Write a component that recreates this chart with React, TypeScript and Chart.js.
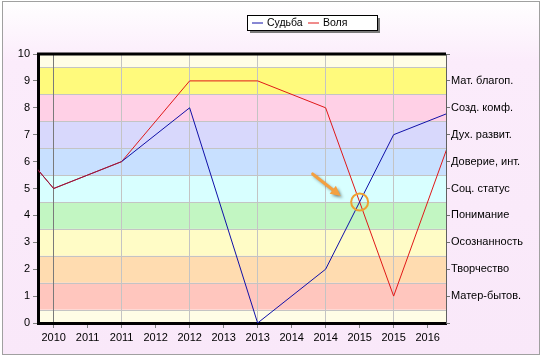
import React, { useEffect, useRef } from "react";
import { Chart, registerables } from "chart.js";

Chart.register(...registerables);

const years = [2009, 2010, 2011, 2012, 2013, 2014, 2015, 2016];
const sudba = [8, 5, 6, 8, 0, 2, 7, 8];
const volya = [8, 5, 6, 9, 9, 8, 1, 8];
const xTickValues = [2010, 2010.5, 2011, 2011.5, 2012, 2012.5, 2013, 2013.5, 2014, 2014.5, 2015, 2015.5];
const xTickLabels = ["2010", "2011", "2011", "2012", "2012", "2013", "2013", "2014", "2014", "2015", "2015", "2016"];
const levelLabels = ["", "Матер-бытов.", "Творчество", "Осознанность", "Понимание", "Соц. статус", "Доверие, инт.", "Дух. развит.", "Созд. комф.", "Мат. благоп.", ""];
const bandColors = ["#FFFDE6", "#FFC6BE", "#FFDCB0", "#FFFCC6", "#C2F6C2", "#D8FFFF", "#C8E0FF", "#D8D8FC", "#FFD0E6", "#FFFA7C", "#FFFDE6"];
const seriesNames = ["Судьба", "Воля"];
const crossPoint = { x: 2014.5, y: 4.5 };
const X_MIN = 2009.77;
const X_MAX = 2015.77;
const FONT = "'Liberation Sans', Arial, sans-serif";

const bgPlugin = {
  id: "bgBands",
  beforeDraw(chart: any) {
    const ctx = chart.ctx;
    const { width, height } = chart;
    ctx.save();
    const g = ctx.createLinearGradient(0, 0, 0, height);
    g.addColorStop(0, "#FFFFFF");
    g.addColorStop(0.17, "#FBECFB");
    g.addColorStop(1, "#F9E8F9");
    ctx.fillStyle = "#FFFFFF";
    ctx.fillRect(0, 0, width, height);
    ctx.fillStyle = g;
    ctx.fillRect(2, 1, width - 4, height - 7);
    ctx.strokeStyle = "#A0A0A0";
    ctx.lineWidth = 1;
    ctx.strokeRect(2.5, 1.5, width - 5, height - 7);
    const area = chart.chartArea;
    const y = chart.scales.y;
    for (let i = 0; i < bandColors.length; i++) {
      const lo = Math.max(0, i - 0.5);
      const hi = Math.min(10, i + 0.5);
      const yTop = y.getPixelForValue(hi);
      const yBot = y.getPixelForValue(lo);
      ctx.fillStyle = bandColors[i];
      ctx.fillRect(area.left, yTop, area.right - area.left, yBot - yTop);
    }
    ctx.strokeStyle = "#C4C4C4";
    ctx.lineWidth = 1;
    for (let i = 0; i < 10; i++) {
      const py = Math.round(y.getPixelForValue(i + 0.5)) + 0.5;
      ctx.beginPath();
      ctx.moveTo(area.left, py);
      ctx.lineTo(area.right, py);
      ctx.stroke();
    }
    ctx.restore();
  },
  afterDatasetsDraw(chart: any) {
    const ctx = chart.ctx;
    const area = chart.chartArea;
    const cx = chart.scales.x.getPixelForValue(crossPoint.x);
    const cy = chart.scales.y.getPixelForValue(crossPoint.y);
    ctx.save();
    ctx.strokeStyle = "#F0A030";
    ctx.lineWidth = 2;
    ctx.beginPath();
    ctx.arc(cx, cy, 8.5, 0, Math.PI * 2);
    ctx.stroke();
    ctx.shadowColor = "rgba(0,0,0,0.35)";
    ctx.shadowBlur = 3;
    ctx.shadowOffsetX = 2;
    ctx.shadowOffsetY = 2;
    const tx = cx - 47, ty = cy - 28;
    const hx = cx - 19, hy = cy - 6;
    const ang = Math.atan2(hy - ty, hx - tx);
    ctx.strokeStyle = "#F4A040";
    ctx.fillStyle = "#F4A040";
    ctx.lineWidth = 3;
    ctx.lineCap = "round";
    ctx.beginPath();
    ctx.moveTo(tx, ty);
    ctx.lineTo(hx - 6 * Math.cos(ang), hy - 6 * Math.sin(ang));
    ctx.stroke();
    ctx.beginPath();
    ctx.moveTo(hx, hy);
    ctx.lineTo(hx - 10 * Math.cos(ang) + 5 * Math.sin(ang), hy - 10 * Math.sin(ang) - 5 * Math.cos(ang));
    ctx.lineTo(hx - 10 * Math.cos(ang) - 5 * Math.sin(ang), hy - 10 * Math.sin(ang) + 5 * Math.cos(ang));
    ctx.closePath();
    ctx.fill();
    ctx.restore();
    ctx.save();
    ctx.strokeStyle = "#000";
    ctx.lineWidth = 3;
    ctx.beginPath();
    ctx.moveTo(area.left - 1, area.top);
    ctx.lineTo(area.right, area.top);
    ctx.stroke();
    ctx.restore();
  },
  afterDraw(chart: any) {
    const ctx = chart.ctx;
    ctx.save();
    const bx = 247, by = 15, bw = 130, bh = 15;
    ctx.fillStyle = "#7A7A7A";
    ctx.fillRect(bx + 3, by + 3, bw, bh);
    ctx.fillStyle = "#FFFFFF";
    ctx.fillRect(bx, by, bw, bh);
    ctx.strokeStyle = "#000";
    ctx.lineWidth = 1;
    ctx.strokeRect(bx + 0.5, by + 0.5, bw, bh);
    const colors = ["#1010A8", "#E01818"];
    const starts = [252, 308];
    ctx.font = "10.5px " + FONT;
    ctx.textBaseline = "middle";
    for (let i = 0; i < 2; i++) {
      ctx.strokeStyle = colors[i];
      ctx.beginPath();
      ctx.moveTo(starts[i], by + 8);
      ctx.lineTo(starts[i] + 11, by + 8);
      ctx.stroke();
      ctx.fillStyle = "#000";
      ctx.fillText(seriesNames[i], starts[i] + 15, by + 8.5);
    }
    ctx.restore();
  },
};

export default function App() {
  const ref = useRef<HTMLCanvasElement | null>(null);
  useEffect(() => {
    if (!ref.current) return;
    const chart = new Chart(ref.current, {
      type: "line",
      data: {
        datasets: [
          {
            label: seriesNames[0],
            data: years.map((x, i) => ({ x, y: sudba[i] })),
            borderColor: "#1010A8",
            borderWidth: 1,
            pointRadius: 0,
            tension: 0,
            segment: {
              borderColor: (c: any) => (c.p1.parsed.x <= 2011 ? "#8A1848" : "#1010A8"),
            },
          },
          {
            label: seriesNames[1],
            data: years.map((x, i) => ({ x, y: volya[i] })),
            borderColor: "#E01818",
            borderWidth: 1,
            pointRadius: 0,
            tension: 0,
          },
        ],
      },
      options: {
        animation: false,
        responsive: false,
        events: [],
        layout: { padding: { top: 54, left: 0, right: 0, bottom: 0 } },
        plugins: { legend: { display: false }, tooltip: { enabled: false } },
        scales: {
          x: {
            type: "linear",
            min: X_MIN,
            max: X_MAX,
            afterBuildTicks: (s: any) => {
              s.ticks = xTickValues.map((v) => ({ value: v }));
            },
            afterFit: (s: any) => {
              s.height = 37;
            },
            ticks: {
              autoSkip: false,
              maxRotation: 0,
              padding: 3,
              color: "#000",
              font: { family: FONT, size: 11 },
              callback: (_v: any, i: number) => xTickLabels[i],
            },
            grid: {
              drawOnChartArea: true,
              tickLength: 5,
              color: (c: any) =>
                c.tick && Number.isInteger(c.tick.value)
                  ? c.tick.value === 2010
                    ? "#7A7A7A"
                    : "#C4C4C4"
                  : "rgba(0,0,0,0)",
              tickColor: "#808080",
            },
            border: { display: true, color: "#000", width: 3 },
          },
          y: {
            position: "left",
            min: 0,
            max: 10,
            afterFit: (s: any) => {
              s.width = 38;
            },
            ticks: { stepSize: 1, padding: 3, color: "#000", font: { family: FONT, size: 11 } },
            grid: { drawOnChartArea: false, tickLength: 5, tickColor: "#808080" },
            border: { display: true, color: "#000", width: 3 },
          },
          y2: {
            position: "right",
            min: 0,
            max: 10,
            afterFit: (s: any) => {
              s.width = 96;
            },
            ticks: {
              stepSize: 1,
              padding: 1,
              color: "#000",
              font: { family: FONT, size: 11 },
              callback: (v: any) => levelLabels[Math.round(Number(v))] ?? "",
            },
            grid: { drawOnChartArea: false, tickLength: 4, tickColor: "#707070" },
            border: { display: true, color: "#606060", width: 1 },
          },
        },
      },
      plugins: [bgPlugin],
    } as any);
    return () => chart.destroy();
  }, []);
  return (
    <div style={{ position: "fixed", left: 0, top: 0, width: 542, height: 360 }}>
      <canvas ref={ref} width={542} height={360} style={{ display: "block" }} />
    </div>
  );
}
